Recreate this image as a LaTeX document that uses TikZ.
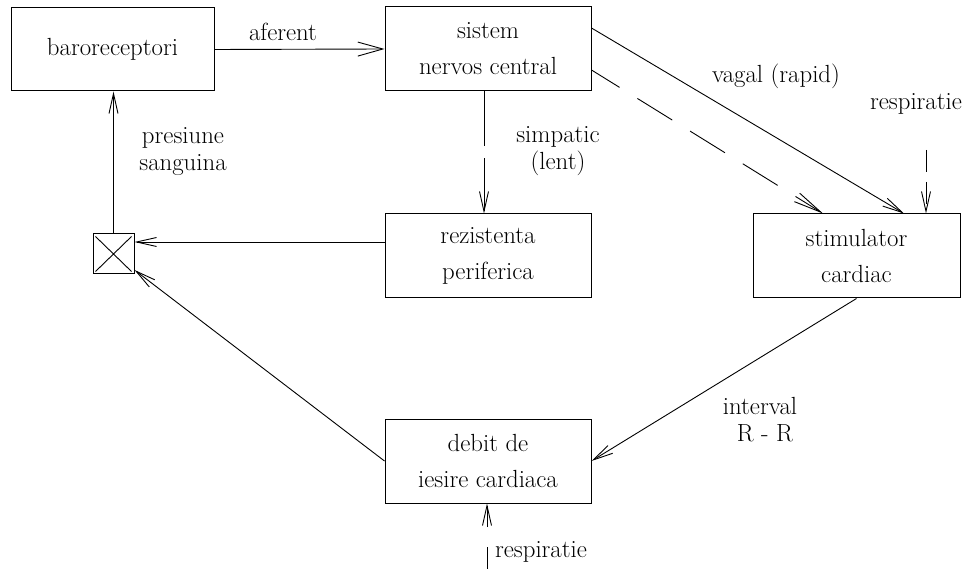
\documentclass[tikz,border=0pt]{standalone}
\usetikzlibrary{arrows.meta}
\begin{document}
\begin{tikzpicture}[x=1pt,y=-1pt,
  box/.style={draw,line width=1pt,minimum width=206pt,minimum height=84pt,align=center,inner sep=0pt,font=\fontsize{24.8}{36}\selectfont},
  lbl/.style={align=center,inner sep=0pt,font=\fontsize{24.8}{27}\selectfont},
  arr/.style={line width=0.9pt,-{Straight Barb[length=20pt,width=9pt,line width=0.9pt]}},
  dsh/.style={dash pattern=on 41pt off 21pt}
  ]
\useasboundingbox (0,0) rectangle (967,569);
% boxes
\node[box,minimum width=203pt,minimum height=83pt] (b1) at (112.5,49.5) {baroreceptori};
\node[box] (b2) at (488,49) {sistem\\nervos central};
\node[box] (b3) at (488,256) {rezistenta\\periferica};
\node[box,minimum width=207pt] (b4) at (856.5,256) {stimulator\\cardiac};
\node[box] (b5) at (488,461) {debit de\\iesire cardiaca};
\node[draw,line width=1pt,minimum width=41pt,minimum height=40pt,inner sep=0pt] (x) at (113.5,254) {};
\draw[line width=0.9pt] ([xshift=3pt,yshift=-3pt]x.north west) -- ([xshift=-3pt,yshift=3pt]x.south east)
  ([xshift=-3pt,yshift=-3pt]x.north east) -- ([xshift=3pt,yshift=3pt]x.south west);
% helper coordinates
\coordinate (b2a) at ([yshift=21pt]b2.east);
\coordinate (b2b) at ([yshift=-21pt]b2.east);
\coordinate (b3w) at ([yshift=14pt]b3.west);
\coordinate (rt) at (926,150);
\coordinate (rb) at (487,569);
% connectors
\draw[arr,-{Straight Barb[length=25pt,width=14pt,line width=0.9pt]}] (b1.east) -- (b2.west);
\draw[arr] (x.north) -- (x.north |- b1.south);
\draw[arr,dash pattern=on 55pt off 12pt] ([xshift=-4pt]b2.south) -- ([xshift=-4pt]b3.north);
\draw[arr] (b3w) -- (x.east |- b3w);
\draw[arr] (b5.west) -- (x);
\draw[arr] (b4.south) -- (b5.east);
\draw[arr] (b2a) -- ([xshift=47.5pt]b4.north);
\draw[arr,dsh,dash phase=8pt,-{Straight Barb[length=28pt,width=10pt,line width=0.9pt]}] (b2b) -- ([xshift=-33.5pt]b4.north);
\draw[arr,dash pattern=on 22pt off 10pt] (rt) -- (rt |- b4.north);
\draw[arr,dash pattern=on 22pt off 20pt] (rb) -- (rb |- b5.south);
% labels
\node[lbl] (l1) at (283,32) {aferent};
\node[lbl] (l2) at (558,151) {simpatic\\(lent)};
\node[lbl] (l3) at (183,152) {presiune\\sanguina};
\node[lbl] (l4) at (776,76) {vagal (rapid)};
\node[lbl] (l5) at (916,104) {respiratie};
\node[lbl] (l6) at (760,420) {interval\\\hspace*{10pt}R - R};
\node[lbl] (l7) at (541,552) {respiratie};
\end{tikzpicture}
\end{document}
